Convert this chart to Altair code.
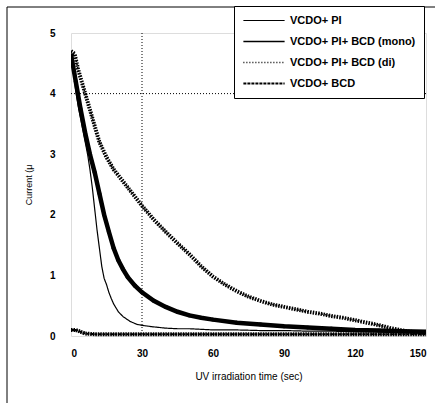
import altair as alt
import pandas as pd

series_names = ["VCDO+ PI", "VCDO+ PI+ BCD (mono)", "VCDO+ PI+ BCD (di)", "VCDO+ BCD"]

pi_t = [0, 1, 2, 3, 4, 5, 6, 7, 8, 9, 10, 11, 12, 13, 14, 15, 16, 17, 18, 20, 22, 25, 28, 31, 35, 40, 45, 50, 55, 60, 70, 80, 90, 100, 110, 120, 130, 140, 150]
pi_v = [4.65, 4.4, 4.05, 3.8, 3.6, 3.4, 3.2, 3.0, 2.75, 2.45, 2.1, 1.75, 1.45, 1.15, 0.95, 0.85, 0.72, 0.62, 0.53, 0.4, 0.32, 0.24, 0.19, 0.17, 0.15, 0.13, 0.12, 0.12, 0.11, 0.1, 0.1, 0.09, 0.09, 0.08, 0.08, 0.07, 0.07, 0.06, 0.06]

mono_t = [0, 2, 4, 6, 8, 10, 12, 14, 16, 18, 20, 22, 24, 27, 30, 35, 40, 45, 50, 55, 60, 70, 80, 90, 100, 110, 120, 130, 140, 150]
mono_v = [4.65, 4.2, 3.75, 3.35, 3.0, 2.7, 2.35, 2.0, 1.72, 1.45, 1.25, 1.1, 0.97, 0.83, 0.72, 0.58, 0.48, 0.4, 0.34, 0.3, 0.27, 0.22, 0.19, 0.16, 0.14, 0.12, 0.1, 0.09, 0.08, 0.07]

di_t = [0, 1.5, 3, 6, 9, 12, 15, 18, 21, 25, 30, 35, 40, 45, 50, 55, 60, 65, 70, 75, 80, 85, 90, 95, 100, 105, 110, 115, 120, 125, 130, 135, 140, 145, 150]
di_v = [4.7, 4.66, 4.4, 4.0, 3.6, 3.2, 2.95, 2.75, 2.6, 2.4, 2.15, 1.92, 1.72, 1.53, 1.35, 1.15, 0.98, 0.85, 0.74, 0.65, 0.58, 0.52, 0.48, 0.44, 0.4, 0.37, 0.33, 0.3, 0.26, 0.22, 0.18, 0.13, 0.09, 0.06, 0.05]

bcd_t = [0, 2, 4, 6, 10, 20, 40, 60, 80, 100, 120, 140, 150]
bcd_v = [0.1, 0.1, 0.07, 0.04, 0.03, 0.03, 0.03, 0.03, 0.03, 0.03, 0.03, 0.03, 0.03]

grid_x = [30]
grid_y = [4]

rows = []
for name, ts, vs in [(series_names[0], pi_t, pi_v), (series_names[1], mono_t, mono_v),
                     (series_names[2], di_t, di_v), (series_names[3], bcd_t, bcd_v)]:
    for t, v in zip(ts, vs):
        rows.append({"series": name, "t": t, "v": v})
df = pd.DataFrame(rows)

W, H = 355, 303
PL, PT = 71, 33

xs = alt.Scale(domain=[0, 150], nice=False)
ys = alt.Scale(domain=[0, 5], nice=False)

x_enc = alt.X("t:Q", scale=xs, axis=alt.Axis(
    values=[0, 30, 60, 90, 120, 150], title="UV irradiation time (sec)", grid=False,
    tickSize=0, labelPadding=12, labelFontWeight="bold", labelFontSize=10, format="d",
    labelFont="Liberation Sans", titleFont="Liberation Sans", titleFontSize=10,
    titleFontWeight="normal", titlePadding=13, domain=False))
y_enc = alt.Y("v:Q", scale=ys, axis=alt.Axis(
    values=[0, 1, 2, 3, 4, 5], title="Current (μ", grid=False, tickSize=0, format="d",
    labelPadding=16, labelFontWeight="bold", labelFontSize=10,
    labelFont="Liberation Sans", titleFont="Liberation Sans", titleFontSize=9,
    titleFontWeight="normal", titlePadding=16, domain=False))

grid_v = alt.Chart(pd.DataFrame({"gx": grid_x})).mark_rule(
    color="black", strokeDash=[1, 2], strokeWidth=1).encode(x=alt.X("gx:Q", scale=xs))
grid_h = alt.Chart(pd.DataFrame({"gy": grid_y})).mark_rule(
    color="black", strokeDash=[1, 2], strokeWidth=1).encode(y=alt.Y("gy:Q", scale=ys))

frame_left = alt.Chart(pd.DataFrame({"a": [0]})).mark_rule(color="black", strokeWidth=1).encode(
    x=alt.value(7 - PL), y=alt.value(7 - PT), y2=alt.value(403 - PT))
frame_top = alt.Chart(pd.DataFrame({"a": [0]})).mark_rule(color="black", strokeWidth=1).encode(
    x=alt.value(7 - PL), x2=alt.value(435 - PL), y=alt.value(7 - PT))

base = alt.Chart(df)

lines = base.mark_line(color="black", clip=True).encode(
    x=x_enc, y=y_enc,
    strokeDash=alt.StrokeDash("series:N", scale=alt.Scale(
        domain=series_names, range=[[1, 0], [1, 0], [1, 2], [3, 1]]),
        legend=alt.Legend(title=None, orient="none", legendX=163, legendY=-27,
                          strokeColor="black", fillColor="white", padding=8,
                          symbolType="stroke", symbolSize=1700, symbolStrokeColor="black",
                          labelFont="Liberation Sans", labelFontSize=11, labelFontWeight="bold",
                          labelLimit=300, rowPadding=8, labelOffset=4, clipHeight=13)),
    strokeWidth=alt.StrokeWidth("series:N", scale=alt.Scale(
        domain=series_names, range=[1.2, 2, 1, 1.5]), legend=None),
    order="t:Q",
)

mono_thick = base.transform_filter(alt.datum.series == series_names[1]).mark_line(
    color="black", strokeWidth=4.5, clip=True).encode(x="t:Q", y="v:Q", order="t:Q")
mono_pts = base.transform_filter(alt.datum.series == series_names[1]).mark_point(
    color="black", filled=True, size=18, clip=True).encode(x="t:Q", y="v:Q")

di_hatch = base.transform_filter(alt.datum.series == series_names[2]).mark_line(
    color="black", strokeWidth=4, strokeDash=[1.5, 1.2], clip=True).encode(x="t:Q", y="v:Q", order="t:Q")
bcd_hatch = base.transform_filter(alt.datum.series == series_names[3]).mark_line(
    color="black", strokeWidth=4, strokeDash=[1.5, 1.0], clip=False).encode(x="t:Q", y="v:Q", order="t:Q")

chart = alt.layer(
    grid_v, grid_h, lines, mono_thick, mono_pts, di_hatch, bcd_hatch, frame_left, frame_top
).properties(
    width=W, height=H,
    autosize=alt.AutoSizeParams(type="none"),
    padding={"left": PL, "top": PT, "right": 435 - PL - W, "bottom": 403 - PT - H},
).configure_view(stroke="black", strokeWidth=1.5).configure(background="white")

chart.save("out.html", embed_options={"renderer": "svg", "actions": False})
